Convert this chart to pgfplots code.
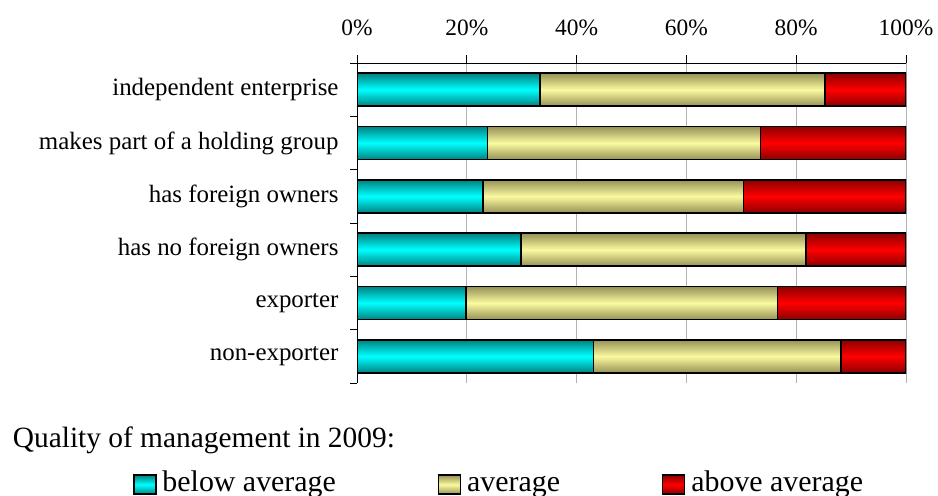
\documentclass[border=0pt]{standalone}
\usepackage{fontspec}
\setmainfont{Liberation Serif}
\usepackage{pgfplots}
\pgfplotsset{compat=1.18}
\definecolor{cyanmid}{RGB}{0,255,255}
\definecolor{cyanedge}{RGB}{0,130,130}
\definecolor{yelmid}{RGB}{250,250,160}
\definecolor{yeledge}{RGB}{150,145,85}
\definecolor{redmid}{RGB}{255,0,0}
\definecolor{rededge}{RGB}{140,0,0}
\pgfplotsset{
  cyfill/.style={top color=cyanedge, bottom color=cyanedge, middle color=cyanmid},
  yefill/.style={top color=yeledge, bottom color=yeledge, middle color=yelmid},
  rdfill/.style={top color=rededge, bottom color=rededge, middle color=redmid},
  seg/.style={xbar, bar shift=0pt, bar width=33bp, draw=black, line width=1.6bp, forget plot},
}
\begin{document}
\begin{tikzpicture}
\useasboundingbox (0,0) rectangle (938bp,-496bp);
\begin{axis}[
  at={(357bp,-63bp)}, anchor=north west,
  scale only axis, width=549bp, height=320bp,
  xmin=0, xmax=100, ymin=-0.5, ymax=5.5,
  axis x line*=top, axis y line*=left,
  axis line style={line width=0.8bp},
  xtick={0,20,...,100},
  xticklabel={\pgfmathprintnumber{\tick}\%},
  xticklabel style={font=\fontsize{23.5}{28}\selectfont, yshift=16bp},
  /pgf/number format/assume math mode=true,
  ytick={0,...,5},
  yticklabels={non-exporter, exporter, has no foreign owners, has foreign owners, makes part of a holding group, independent enterprise},
  yticklabel style={font=\fontsize{25}{29}\selectfont, xshift=-7bp},
  minor ytick={-0.5,0.5,...,5.5},
  major y tick style={draw=none},
  tick align=outside,
  major tick length=8bp, minor tick length=7bp,
  tick style={black, line width=0.8bp},
  xmajorgrids, grid style={gray!60, line width=0.8bp},
  legend columns=3,
  legend style={draw=none, fill=none, at={(-0.408,-0.316)}, anchor=west,
    font=\fontsize{30}{34}\selectfont, inner sep=0pt,
    nodes={text height=21bp, text depth=7bp},
    /tikz/every odd column/.append style={column sep=4bp},
    /tikz/every even column/.append style={column sep=100bp}},
  legend image code/.code={\draw[#1, line width=1.3bp] (0bp,-10bp) rectangle (22bp,9bp);},
]
\addlegendimage{draw=black, cyfill}
\addlegendentry{below average}
\addlegendimage{draw=black, yefill}
\addlegendentry{average}
\addlegendimage{draw=black, rdfill}
\addlegendentry{above average}
% each bar: above average (to 100), average (to its end), below average
% non-exporter
\addplot[seg, rdfill] coordinates {(100,0)};
\addplot[seg, yefill] coordinates {(88.2,0)};
\addplot[seg, cyfill] coordinates {(43.1,0)};
% exporter
\addplot[seg, rdfill] coordinates {(100,1)};
\addplot[seg, yefill] coordinates {(76.6,1)};
\addplot[seg, cyfill] coordinates {(19.9,1)};
% has no foreign owners
\addplot[seg, rdfill] coordinates {(100,2)};
\addplot[seg, yefill] coordinates {(81.8,2)};
\addplot[seg, cyfill] coordinates {(29.9,2)};
% has foreign owners
\addplot[seg, rdfill] coordinates {(100,3)};
\addplot[seg, yefill] coordinates {(70.4,3)};
\addplot[seg, cyfill] coordinates {(23.0,3)};
% makes part of a holding group
\addplot[seg, rdfill] coordinates {(100,4)};
\addplot[seg, yefill] coordinates {(73.5,4)};
\addplot[seg, cyfill] coordinates {(23.8,4)};
% independent enterprise
\addplot[seg, rdfill] coordinates {(100,5)};
\addplot[seg, yefill] coordinates {(85.2,5)};
\addplot[seg, cyfill] coordinates {(33.3,5)};
\end{axis}
\node[anchor=base west, inner sep=0pt, font=\fontsize{29.5}{34}\selectfont] at (12.7bp,-447bp) {Quality of management in 2009:};
\end{tikzpicture}
\end{document}
